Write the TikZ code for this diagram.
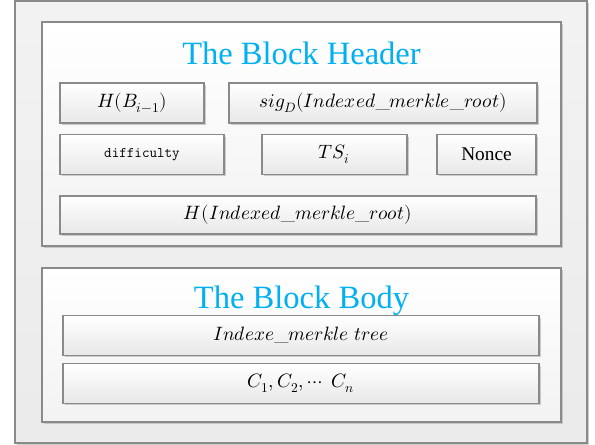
\documentclass[tikz,border=0pt]{standalone}
\usepackage{fontspec}
\usepackage{unicode-math}
\usetikzlibrary{shadows}

\newfontfamily\serifname{Liberation Serif}
\definecolor{titleblue}{RGB}{0,176,240}
\definecolor{edgegray}{RGB}{138,138,138}
\definecolor{shadegray}{RGB}{232,232,232}

\begin{document}
\begin{tikzpicture}[x=0.75pt,y=0.75pt,yscale=-1,xscale=1,
    boxshadow/.style={drop shadow={shadow xshift=1.3pt,shadow yshift=-1.3pt,fill=black!35,opacity=0.55}},
    panel/.style={draw=edgegray,line width=0.8pt,inner sep=0pt,boxshadow},
    field/.style={draw=edgegray,line width=0.8pt,inner sep=0pt,top color=white,bottom color=shadegray,boxshadow,
                  minimum height=29.5pt,font=\fontsize{14.5}{16}\selectfont},
    heading/.style={anchor=base,inner sep=0pt,text=titleblue,font=\serifname\fontsize{24.4}{28}\selectfont}]
				\useasboundingbox (0,0) rectangle (595,445);

				% Panels
				\node [panel,top color=black!5,bottom color=black!8,minimum width=429pt,minimum height=331.5pt] (block) at (301,222) {};
				\node [panel,top color=white,bottom color=black!5,minimum width=389.25pt,minimum height=168pt] (header) at (301.5,134) {};
				\node [panel,top color=white,bottom color=black!5,minimum width=389.25pt,minimum height=115.5pt] (body) at (301.5,345) {};

				% Header fields
				\node [heading] (headtitle) at (301.5,65) {The Block Header};
				\node [field,minimum width=108pt,minimum height=30pt] (prevhash) at (132,103) {$H(B_{i-1})$};
				\node [field,minimum width=231pt,minimum height=30pt] (signature) at (383,103) {$sig_D(Indexed\_merkle\_root)$};
				\node [field,minimum width=123pt,font=\ttfamily\fontsize{11}{12}\selectfont] (difficulty) at (142,154.5) {difficulty};
				\node [field,minimum width=108.75pt] (timestamp) at (334.5,154.5) {$TS_i$};
				\node [field,minimum width=74.25pt,font=\serifname\fontsize{14.5}{16}\selectfont] (nonce) at (486.5,154.5) {Nonce};
				\node [field,minimum width=357pt,minimum height=28.5pt] (roothash) at (298,215) {$H(Indexed\_merkle\_root)$};

				% Body fields
				\node [heading] (bodytitle) at (301.5,308) {The Block Body};
				\node [field,minimum width=357pt] (tree) at (301,335.5) {$Indexe\_merkle\ tree$};
				\node [field,minimum width=357pt] (records) at (301,383.5) {$C_1, C_2, \cdots\ C_n$};

\end{tikzpicture}
\end{document}
